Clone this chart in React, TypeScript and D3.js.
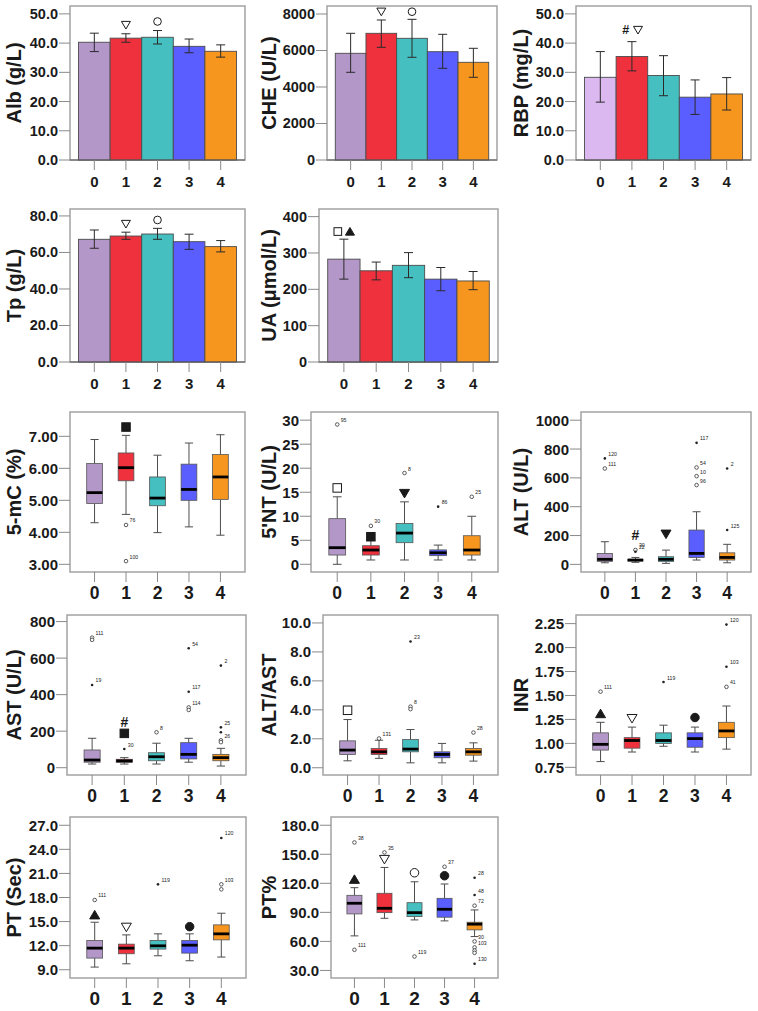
import React from 'react';
import * as d3 from 'd3';

const groups = ['0', '1', '2', '3', '4'];
const colors = ['#b497c9', '#ee313d', '#45bfbf', '#5b5eff', '#f7961e'];
const rbpColors = ['#dcb8f0', '#ee313d', '#45bfbf', '#5b5eff', '#f7961e'];

// bar charts: mean and error bar ends
const albMean = [40.3, 41.7, 42.0, 38.9, 37.2];
const albLow = [37.1, 40.3, 39.7, 36.7, 35.2];
const albHigh = [43.4, 43.2, 44.3, 41.4, 39.4];
const cheMean = [5846, 6942, 6668, 5934, 5353];
const cheLow = [4805, 6175, 5627, 5024, 4531];
const cheHigh = [6942, 7671, 7707, 6887, 6120];
const rbpMean = [28.3, 35.4, 28.9, 21.5, 22.6];
const rbpLow = [19.8, 30.5, 22.0, 15.6, 17.1];
const rbpHigh = [37.1, 40.5, 35.7, 27.4, 28.2];
const tpMean = [67.2, 69.0, 70.1, 65.9, 63.2];
const tpLow = [62.3, 67.2, 67.2, 61.7, 60.3];
const tpHigh = [72.3, 71.1, 73.2, 70.0, 66.5];
const uaMean = [283, 251, 266, 228, 223];
const uaLow = [228, 226, 232, 196, 199];
const uaHigh = [338, 275, 301, 260, 249];

// box plots: [whisker low, q1, median, q3, whisker high]
const mc5Stats = [[4.30, 4.90, 5.24, 6.15, 6.90], [4.56, 5.61, 6.02, 6.48, 7.03], [3.99, 4.83, 5.07, 5.73, 6.41], [4.17, 5.00, 5.34, 6.13, 6.79], [3.91, 5.03, 5.73, 6.43, 7.05]];
const nt5Stats = [[0, 1.93, 3.46, 9.5, 14.05], [0.9, 1.93, 2.97, 3.87, 5.0], [0.9, 4.5, 6.5, 8.5, 13.0], [0.9, 1.8, 2.4, 3.0, 4.0], [0.9, 1.93, 2.97, 5.95, 10.0]];
const altStats = [[11, 21, 35, 76, 157], [14, 23, 30, 35, 48], [7, 21, 35, 53, 99], [30, 48, 76, 238, 365], [11, 30, 48, 80, 139]];
const astStats = [[20, 30, 42, 97, 161], [20, 30, 37, 46, 55], [20, 38, 60, 82, 134], [30, 48, 73, 137, 161], [9, 38, 55, 73, 106]];
const altAstStats = [[0.48, 0.92, 1.22, 1.86, 3.33], [0.65, 0.92, 1.10, 1.33, 1.90], [0.34, 1.10, 1.29, 1.95, 2.64], [0.34, 0.69, 0.92, 1.10, 1.68], [0.46, 0.87, 1.10, 1.33, 1.72]];
const inrStats = [[0.81, 0.93, 0.99, 1.11, 1.22], [0.91, 0.95, 1.03, 1.06, 1.17], [0.97, 1.00, 1.03, 1.11, 1.19], [0.91, 0.96, 1.05, 1.11, 1.17], [0.94, 1.06, 1.13, 1.22, 1.39]];
const ptStats = [[9.33, 10.45, 11.69, 12.64, 14.92], [9.74, 10.99, 11.69, 12.19, 13.34], [10.74, 11.57, 11.98, 12.64, 13.47], [10.12, 11.07, 12.06, 12.64, 13.47], [10.58, 12.72, 13.47, 14.59, 16.04]];
const ptpStats = [[65.7, 88.4, 99.4, 107.6, 115.5], [83.9, 89.7, 94.2, 109.7, 136.4], [82.2, 85.6, 89.7, 100.0, 121.6], [81.2, 85.0, 93.2, 104.5, 119.3], [65.0, 71.9, 77.8, 79.8, 92.5]];

// outliers: [group, value, kind, case label]
type Out = [number, number, string, string];
const mc5Out: Out[] = [[1, 4.23, 'o', '76'], [1, 3.10, 'o', '100']];
const nt5Out: Out[] = [[0, 29.1, 'o', '95'], [1, 8.0, 'o', '30'], [2, 19.0, 'o', '8'], [3, 12.0, '*', '86'], [4, 14.05, 'o', '25']];
const altOut: Out[] = [[0, 735, '*', '120'], [0, 665, 'o', '111'], [1, 100, 'o', '30'], [1, 87, '*', '22'], [3, 843, '*', '117'], [3, 672, 'o', '54'], [3, 612, 'o', '10'], [3, 550, 'o', '96'], [4, 665, '*', '2'], [4, 238, '*', '125']];
const astOut: Out[] = [[0, 712, 'o', '111'], [0, 700, 'o', ''], [0, 453, '*', '19'], [1, 102, '*', '30'], [2, 194, 'o', '8'], [3, 654, '*', '54'], [3, 416, '*', '117'], [3, 330, 'o', '114'], [3, 316, 'o', ''], [4, 559, '*', '2'], [4, 221, '*', '25'], [4, 194, '*', ''], [4, 150, 'o', '26'], [4, 140, 'o', '']];
const altAstOut: Out[] = [[1, 2.02, 'o', '131'], [2, 8.72, '*', '23'], [2, 4.22, 'o', '8'], [2, 4.05, 'o', ''], [4, 2.43, 'o', '28']];
const inrOut: Out[] = [[0, 1.54, 'o', '111'], [2, 1.64, '*', '119'], [4, 2.24, '*', '120'], [4, 1.80, '*', '103'], [4, 1.59, 'o', '41']];
const ptOut: Out[] = [[0, 17.69, 'o', '111'], [2, 19.64, '*', '119'], [4, 25.42, '*', '120'], [4, 19.64, 'o', '103'], [4, 19.02, 'o', '']];
const ptpOut: Out[] = [[0, 162.2, 'o', '38'], [0, 51.3, 'o', '111'], [1, 151.9, 'o', '35'], [2, 44.4, 'o', '119'], [3, 137.1, 'o', '37'], [4, 125.7, '*', '28'], [4, 107.9, '*', '48'], [4, 96.9, 'o', '72'], [4, 60.0, 'o', '30'], [4, 53.8, 'o', '103'], [4, 50.6, 'o', ''], [4, 48.2, 'o', ''], [4, 36.9, '*', '130']];

// significance marks: [group, value, symbols]
type Mark = [number, number, string];
const albMarks: Mark[] = [[1, 46.2, '▽'], [2, 47.4, '○']];
const cheMarks: Mark[] = [[1, 8126, '▽'], [2, 8126, '○']];
const rbpMarks: Mark[] = [[1, 44.5, '#▽']];
const tpMarks: Mark[] = [[1, 75.6, '▽'], [2, 77.8, '○']];
const uaMarks: Mark[] = [[0, 359, '□▲']];
const mc5Marks: Mark[] = [[1, 7.29, '■']];
const nt5Marks: Mark[] = [[0, 15.9, '□'], [1, 5.74, '■'], [2, 14.76, '▼']];
const altMarks: Mark[] = [[1, 203, '#'], [2, 210, '▼']];
const astMarks: Mark[] = [[1, 252, '#'], [1, 188, '■']];
const altAstMarks: Mark[] = [[0, 3.97, '□']];
const inrMarks: Mark[] = [[0, 1.31, '▲'], [1, 1.26, '▽'], [3, 1.27, '●']];
const ptMarks: Mark[] = [[0, 15.83, '▲'], [1, 14.30, '▽'], [3, 14.37, '●']];
const ptpMarks: Mark[] = [[0, 124.1, '▲'], [1, 144.7, '▽'], [2, 130.9, '○'], [3, 127.8, '●']];

const FONT = '"Liberation Sans", Arial, Helvetica, sans-serif';
const FRAME = '#a3a3a3';
const TICK = '#8a8a8a';
const INK = '#1a1a1a';

type Frame = { x: number; y: number; w: number; h: number };

function Glyph({ sym, cx, cy, s }: { sym: string; cx: number; cy: number; s: number }) {
  const h = s / 2;
  if (sym === '▽' || sym === '▼') {
    const d = `M${cx - h},${cy - h * 0.8}L${cx + h},${cy - h * 0.8}L${cx},${cy + h * 0.9}Z`;
    return <path d={d} fill={sym === '▼' ? INK : 'none'} stroke={INK} strokeWidth={1} />;
  }
  if (sym === '▲') {
    const d = `M${cx},${cy - h * 0.9}L${cx + h},${cy + h * 0.8}L${cx - h},${cy + h * 0.8}Z`;
    return <path d={d} fill={INK} stroke={INK} strokeWidth={1} />;
  }
  if (sym === '○' || sym === '●') {
    return <circle cx={cx} cy={cy} r={h * 0.85} fill={sym === '●' ? INK : 'none'} stroke={INK} strokeWidth={1} />;
  }
  if (sym === '□' || sym === '■') {
    const a = h * 0.85;
    return <rect x={cx - a} y={cy - a} width={2 * a} height={2 * a} fill={sym === '■' ? INK : 'none'} stroke={INK} strokeWidth={1} />;
  }
  return (
    <text x={cx} y={cy} textAnchor="middle" dominantBaseline="central" fontSize={s * 1.4} fontWeight="bold" fill={INK}>
      {sym}
    </text>
  );
}

function Marks({ marks, x, y, s }: { marks: Mark[]; x: (g: string) => number; y: d3.ScaleLinear<number, number>; s: number }) {
  return (
    <g>
      {marks.map(([g, v, txt], i) => {
        const chars = Array.from(txt);
        const gap = s * 1.35;
        const x0 = x(groups[g]) - ((chars.length - 1) * gap) / 2;
        return chars.map((c, j) => <Glyph key={`${i}-${j}`} sym={c} cx={x0 + j * gap} cy={y(v)} s={s} />);
      })}
    </g>
  );
}

function YTitle({ text, x, frame }: { text: string; x: number; frame: Frame }) {
  const cy = frame.y + frame.h / 2;
  return (
    <text transform={`translate(${x},${cy}) rotate(-90)`} textAnchor="middle" fontSize={20} fontWeight="bold" fill={INK}>
      {text}
    </text>
  );
}

function YAxis({ y, ticks, fmt, frame, fs }: { y: d3.ScaleLinear<number, number>; ticks: number[]; fmt: string; frame: Frame; fs: number }) {
  const f = d3.format(fmt);
  return (
    <g>
      {ticks.map((t) => (
        <g key={t}>
          <line x1={frame.x - 11} x2={frame.x} y1={y(t)} y2={y(t)} stroke={TICK} strokeWidth={1} />
          <text x={frame.x - 12} y={y(t)} textAnchor="end" dominantBaseline="central" fontSize={fs} fontWeight="bold" fill={INK}>
            {f(t)}
          </text>
        </g>
      ))}
    </g>
  );
}

function XAxis({ x, frame, fs }: { x: (g: string) => number; frame: Frame; fs: number }) {
  const b = frame.y + frame.h;
  return (
    <g>
      {groups.map((g) => (
        <g key={g}>
          <line x1={x(g)} x2={x(g)} y1={b} y2={b + 10} stroke={TICK} strokeWidth={1} />
          <text x={x(g)} y={b + 27} textAnchor="middle" fontSize={fs} fontWeight="bold" fill={INK}>
            {g}
          </text>
        </g>
      ))}
    </g>
  );
}

type BarProps = {
  frame: Frame; title: string; titleX: number; top: number; ticks: number[]; fmt: string;
  mean: number[]; low: number[]; high: number[]; marks: Mark[]; fill?: string[];
};

function BarPanel({ frame, title, titleX, top, ticks, fmt, mean, low, high, marks, fill = colors }: BarProps) {
  const x = d3.scaleBand().domain(groups).range([frame.x, frame.x + frame.w]).paddingInner(0).paddingOuter(0.27);
  const y = d3.scaleLinear().domain([0, top]).range([frame.y + frame.h, frame.y]);
  const cx = (g: string) => (x(g) as number) + x.bandwidth() / 2;
  return (
    <g>
      <rect x={frame.x} y={frame.y} width={frame.w} height={frame.h} fill="none" stroke={FRAME} strokeWidth={1.5} />
      {groups.map((g, i) => (
        <rect key={g} x={x(g)} y={y(mean[i])} width={x.bandwidth()} height={y(0) - y(mean[i])} fill={fill[i]} stroke="#4a4a4a" strokeWidth={0.9} />
      ))}
      {groups.map((g, i) => (
        <g key={g} stroke="#2a2a2a" strokeWidth={1}>
          <line x1={cx(g)} x2={cx(g)} y1={y(low[i])} y2={y(high[i])} />
          <line x1={cx(g) - 4.5} x2={cx(g) + 4.5} y1={y(low[i])} y2={y(low[i])} />
          <line x1={cx(g) - 4.5} x2={cx(g) + 4.5} y1={y(high[i])} y2={y(high[i])} />
        </g>
      ))}
      <line x1={frame.x} x2={frame.x + frame.w} y1={y(0)} y2={y(0)} stroke="#5a5a5a" strokeWidth={1.2} />
      <Marks marks={marks} x={cx} y={y} s={9} />
      <YAxis y={y} ticks={ticks} fmt={fmt} frame={frame} fs={14.5} />
      <XAxis x={cx} frame={frame} fs={15} />
      <YTitle text={title} x={titleX} frame={frame} />
    </g>
  );
}

type BoxProps = {
  frame: Frame; title: string; titleX: number; domain: [number, number]; ticks: number[]; fmt: string;
  stats: number[][]; outliers: Out[]; marks: Mark[]; xfs: number;
};

function BoxPanel({ frame, title, titleX, domain, ticks, fmt, stats, outliers, marks, xfs }: BoxProps) {
  const x = d3.scalePoint().domain(groups).range([frame.x, frame.x + frame.w]).padding(0.78);
  const y = d3.scaleLinear().domain(domain).range([frame.y + frame.h, frame.y]);
  const cx = (g: string) => x(g) as number;
  const bw = x.step() * 0.5;
  const cap = x.step() * 0.13;
  return (
    <g>
      <rect x={frame.x} y={frame.y} width={frame.w} height={frame.h} fill="none" stroke={FRAME} strokeWidth={1.5} />
      {groups.map((g, i) => {
        const [lo, q1, md, q3, hi] = stats[i];
        const c = cx(g);
        return (
          <g key={g}>
            <g stroke="#4d4d4d" strokeWidth={1}>
              <line x1={c} x2={c} y1={y(lo)} y2={y(q1)} />
              <line x1={c} x2={c} y1={y(q3)} y2={y(hi)} />
              <line x1={c - cap} x2={c + cap} y1={y(lo)} y2={y(lo)} />
              <line x1={c - cap} x2={c + cap} y1={y(hi)} y2={y(hi)} />
            </g>
            <rect x={c - bw / 2} y={y(q3)} width={bw} height={Math.max(1, y(q1) - y(q3))} fill={colors[i]} stroke="#555" strokeWidth={0.8} />
            <line x1={c - bw / 2} x2={c + bw / 2} y1={y(md)} y2={y(md)} stroke="#000" strokeWidth={2.8} />
          </g>
        );
      })}
      {outliers.map(([g, v, kind, lab], i) => {
        const c = cx(groups[g]);
        return (
          <g key={i}>
            {kind === 'o' ? (
              <circle cx={c} cy={y(v)} r={1.8} fill="#fff" stroke="#333" strokeWidth={0.8} />
            ) : (
              <circle cx={c} cy={y(v)} r={1.3} fill="#222" />
            )}
            {lab && (
              <text x={c + 3.5} y={y(v) - 2.5} fontSize={5.2} fill="#222">
                {lab}
              </text>
            )}
          </g>
        );
      })}
      <Marks marks={marks} x={cx} y={y} s={10} />
      <YAxis y={y} ticks={ticks} fmt={fmt} frame={frame} fs={15} />
      <XAxis x={cx} frame={frame} fs={xfs} />
      <YTitle text={title} x={titleX} frame={frame} />
    </g>
  );
}

const T1 = 21;
const T2 = 276;
const T3 = 528;

export default function App() {
  return (
    <svg width={758} height={1011} style={{ position: 'absolute', left: 0, top: 0, background: '#fff' }} fontFamily={FONT}>
      <BarPanel frame={{ x: 70, y: 6, w: 175, h: 154 }} title="Alb (g/L)" titleX={T1} top={52.7}
        ticks={[0, 10, 20, 30, 40, 50]} fmt=".1f" mean={albMean} low={albLow} high={albHigh} marks={albMarks} />
      <BarPanel frame={{ x: 327, y: 6, w: 170, h: 154 }} title="CHE (U/L)" titleX={T2} top={8438}
        ticks={[0, 2000, 4000, 6000, 8000]} fmt="d" mean={cheMean} low={cheLow} high={cheHigh} marks={cheMarks} />
      <BarPanel frame={{ x: 576, y: 6, w: 175, h: 154 }} title="RBP (mg/L)" titleX={T3} top={52.7}
        ticks={[0, 10, 20, 30, 40, 50]} fmt=".1f" mean={rbpMean} low={rbpLow} high={rbpHigh} marks={rbpMarks} fill={rbpColors} />
      <BarPanel frame={{ x: 70, y: 209, w: 175, h: 153 }} title="Tp (g/L)" titleX={T1} top={83.8}
        ticks={[0, 20, 40, 60, 80]} fmt=".1f" mean={tpMean} low={tpLow} high={tpHigh} marks={tpMarks} />
      <BarPanel frame={{ x: 319, y: 209, w: 179, h: 153 }} title="UA (μmol/L)" titleX={T2} top={421}
        ticks={[0, 100, 200, 300, 400]} fmt="d" mean={uaMean} low={uaLow} high={uaHigh} marks={uaMarks} />

      <BoxPanel frame={{ x: 70, y: 412, w: 175, h: 160 }} title="5-mC (%)" titleX={T1} domain={[2.76, 7.76]}
        ticks={[3, 4, 5, 6, 7]} fmt=".2f" stats={mc5Stats} outliers={mc5Out} marks={mc5Marks} xfs={17.5} />
      <BoxPanel frame={{ x: 311, y: 412, w: 187, h: 160 }} title="5'NT (U/L)" titleX={T2} domain={[-1.6, 31.7]}
        ticks={[0, 5, 10, 15, 20, 25, 30]} fmt="d" stats={nt5Stats} outliers={nt5Out} marks={nt5Marks} xfs={17.5} />
      <BoxPanel frame={{ x: 581, y: 412, w: 170, h: 160 }} title="ALT (U/L)" titleX={T3} domain={[-53, 1057]}
        ticks={[0, 200, 400, 600, 800, 1000]} fmt="d" stats={altStats} outliers={altOut} marks={altMarks} xfs={17.5} />

      <BoxPanel frame={{ x: 67, y: 615, w: 179, h: 160 }} title="AST (U/L)" titleX={T1} domain={[-40, 836]}
        ticks={[0, 200, 400, 600, 800]} fmt="d" stats={astStats} outliers={astOut} marks={astMarks} xfs={17.5} />
      <BoxPanel frame={{ x: 323, y: 615, w: 175, h: 160 }} title="ALT/AST" titleX={T2} domain={[-0.5, 10.55]}
        ticks={[0, 2, 4, 6, 8, 10]} fmt=".1f" stats={altAstStats} outliers={altAstOut} marks={altAstMarks} xfs={17.5} />
      <BoxPanel frame={{ x: 576, y: 615, w: 175, h: 160 }} title="INR" titleX={T3} domain={[0.67, 2.34]}
        ticks={[0.75, 1, 1.25, 1.5, 1.75, 2, 2.25]} fmt=".2f" stats={inrStats} outliers={inrOut} marks={inrMarks} xfs={17.5} />

      <BoxPanel frame={{ x: 70, y: 817, w: 176, h: 161 }} title="PT (Sec)" titleX={T1} domain={[7.97, 28.03]}
        ticks={[9, 12, 15, 18, 21, 24, 27]} fmt=".1f" stats={ptStats} outliers={ptOut} marks={ptMarks} xfs={19} />
      <BoxPanel frame={{ x: 331, y: 817, w: 167, h: 161 }} title="PT%" titleX={T2} domain={[22.2, 188.5]}
        ticks={[30, 60, 90, 120, 150, 180]} fmt=".1f" stats={ptpStats} outliers={ptpOut} marks={ptpMarks} xfs={19} />
    </svg>
  );
}
